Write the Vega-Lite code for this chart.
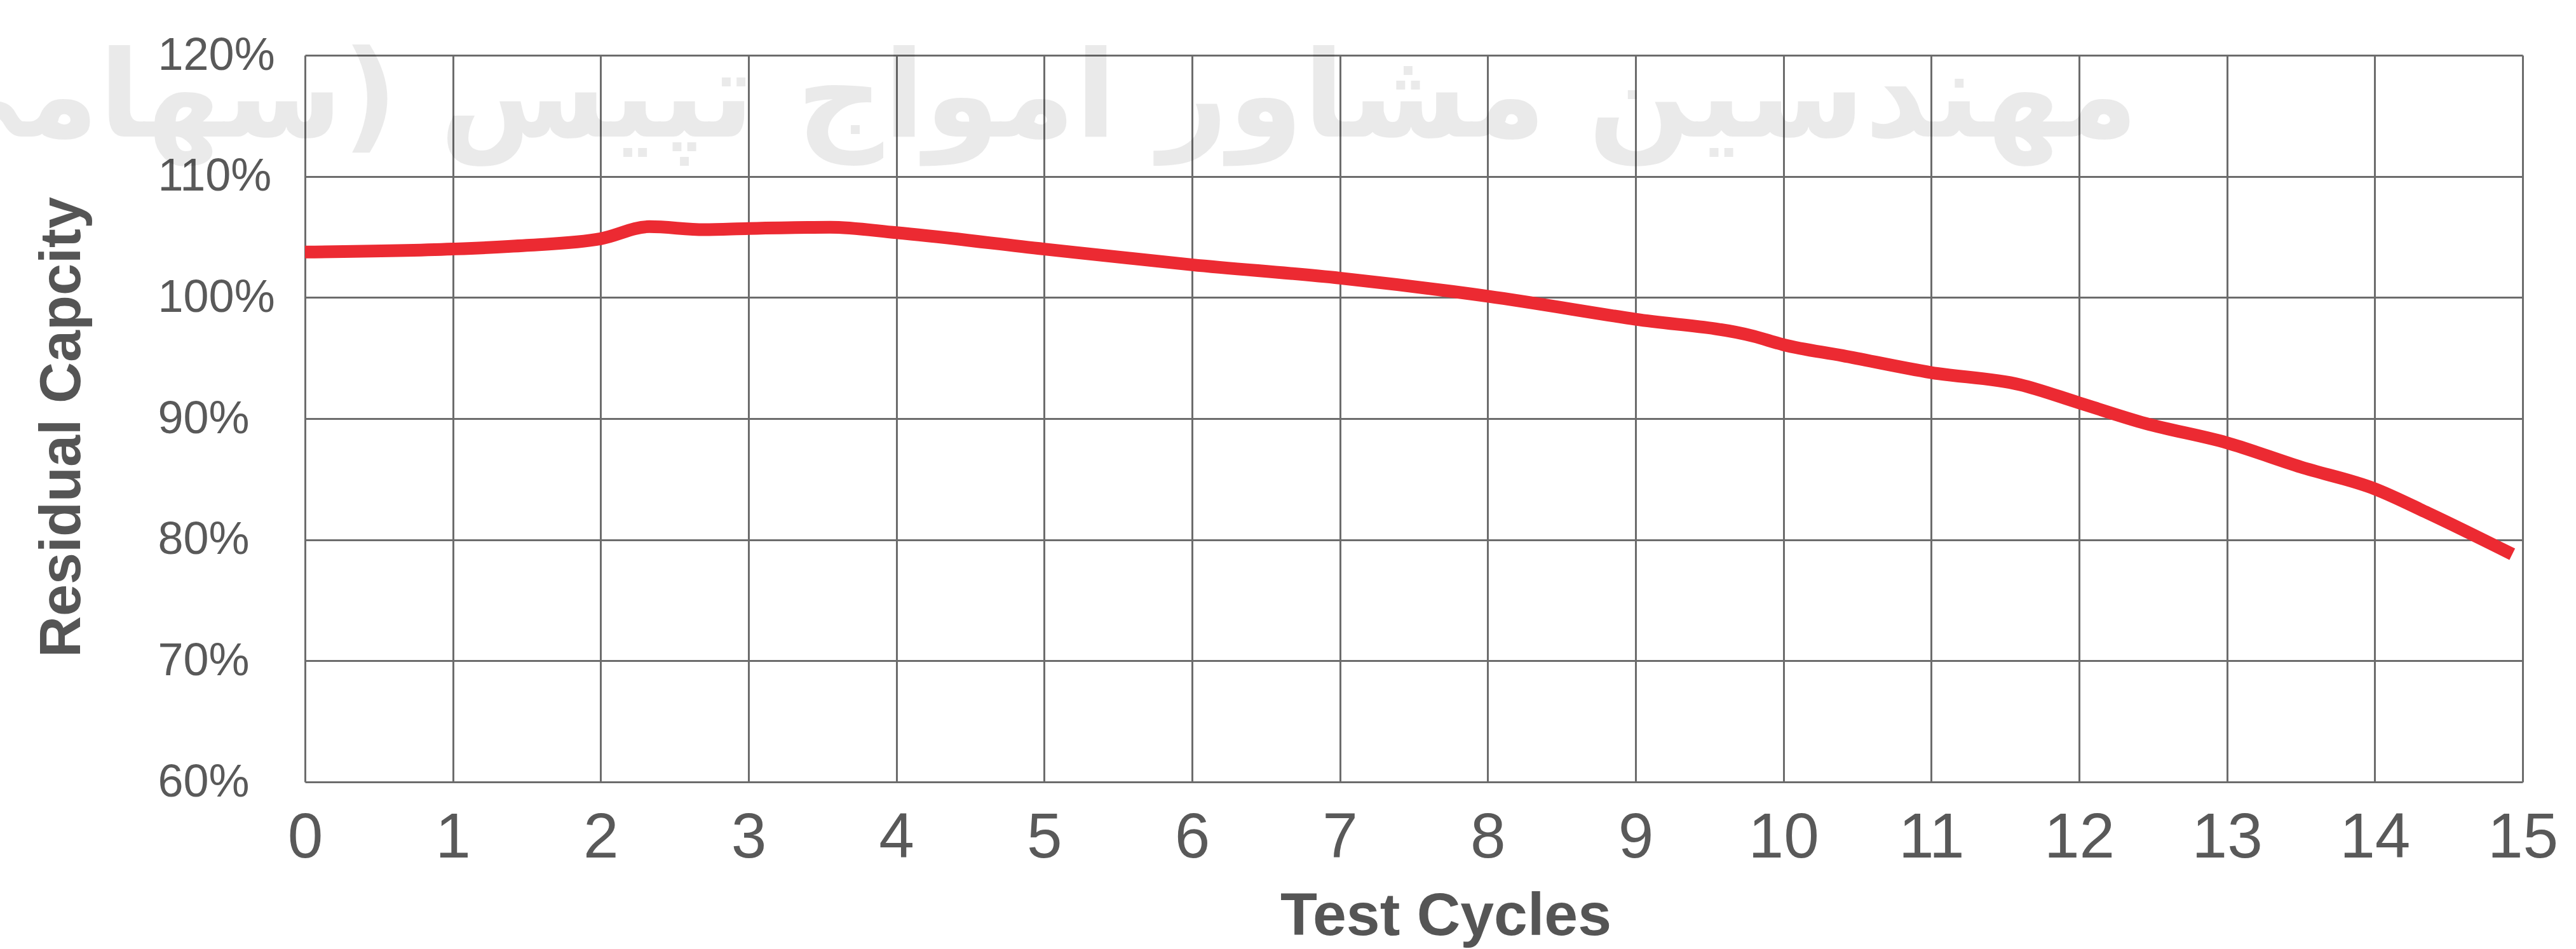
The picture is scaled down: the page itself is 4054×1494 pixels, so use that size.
{
  "$schema": "https://vega.github.io/schema/vega-lite/v6.json",
  "width": 3490,
  "height": 1144,
  "autosize": {"type": "none"},
  "padding": {"left": 480, "top": 87, "right": 84, "bottom": 263},
  "background": "white",
  "config": {"view": {"stroke": null}, "font": "Liberation Sans"},
  "data": {
    "values": [
      {"cycle": 0, "capacity": 103.75},
      {"cycle": 1, "capacity": 104.0},
      {"cycle": 1.5, "capacity": 104.3},
      {"cycle": 2, "capacity": 104.85},
      {"cycle": 2.33, "capacity": 105.85},
      {"cycle": 2.7, "capacity": 105.6},
      {"cycle": 3, "capacity": 105.7},
      {"cycle": 3.55, "capacity": 105.8},
      {"cycle": 4, "capacity": 105.35},
      {"cycle": 5, "capacity": 104.0},
      {"cycle": 6, "capacity": 102.7},
      {"cycle": 7, "capacity": 101.6},
      {"cycle": 8, "capacity": 100.1},
      {"cycle": 9, "capacity": 98.2},
      {"cycle": 9.8, "capacity": 96.8},
      {"cycle": 10, "capacity": 96.1},
      {"cycle": 10.4, "capacity": 95.2},
      {"cycle": 11, "capacity": 93.8},
      {"cycle": 11.6, "capacity": 92.8},
      {"cycle": 12, "capacity": 91.3},
      {"cycle": 12.45, "capacity": 89.6},
      {"cycle": 13, "capacity": 88.0},
      {"cycle": 13.5, "capacity": 86.0},
      {"cycle": 14, "capacity": 84.2},
      {"cycle": 14.36, "capacity": 82.2},
      {"cycle": 14.93, "capacity": 78.8}
    ]
  },
  "layer": [
    {
      "mark": {"type": "line", "color": "#EC2A32", "strokeWidth": 20, "interpolate": "monotone", "strokeCap": "butt"},
      "encoding": {
        "x": {
          "field": "cycle",
          "type": "quantitative",
          "scale": {"domain": [0, 15], "nice": false, "zero": false},
          "axis": {
            "title": "Test Cycles",
            "values": [0,1,2,3,4,5,6,7,8,9,10,11,12,13,14,15],
            "format": "d",
            "grid": true,
            "gridColor": "#6c6c6c",
            "gridWidth": 3,
            "domain": false,
            "ticks": false,
            "tickSize": 0,
            "labelFont": "Liberation Sans",
            "labelFontSize": 100,
            "labelColor": "#595959",
            "labelBaseline": "alphabetic",
            "labelPadding": 118,
            "labelFlush": false,
            "labelOverlap": false,
            "labelLimit": 0,
            "titleFont": "Liberation Sans",
            "titleFontWeight": "bold",
            "titleFontSize": 95,
            "titleColor": "#555555",
            "titleBaseline": "alphabetic",
            "titleAlign": "center",
            "titleX": 1795,
            "titleY": 240
          }
        },
        "y": {
          "field": "capacity",
          "type": "quantitative",
          "scale": {"domain": [60, 120], "nice": false, "zero": false},
          "axis": {
            "title": "Residual Capcity",
            "values": [60,70,80,90,100,110,120],
            "labelExpr": "datum.value + '%'",
            "grid": true,
            "gridColor": "#6c6c6c",
            "gridWidth": 3,
            "domain": false,
            "ticks": false,
            "tickSize": 0,
            "labelFont": "Liberation Sans",
            "labelFontSize": 72,
            "labelColor": "#595959",
            "labelAlign": "left",
            "labelBaseline": "middle",
            "labelPadding": 232,
            "labelFlush": false,
            "labelOverlap": false,
            "labelLimit": 0,
            "titleFont": "Liberation Sans",
            "titleFontWeight": "bold",
            "titleFontSize": 90,
            "titleColor": "#555555",
            "titleAngle": -90,
            "titleBaseline": "alphabetic",
            "titleAlign": "center",
            "titleX": -355,
            "titleY": 585,
            "titleLimit": 0
          }
        }
      }
    },
    {
      "data": {"values": [{"watermark": "مهندسین مشاور امواج تپیس (سهامی خاص)"}]},
      "mark": {"type": "text", "font": "DejaVu Sans", "fontWeight": "bold", "fontSize": 190, "color": "#000000", "opacity": 0.08, "align": "right", "baseline": "middle", "limit": 0},
      "encoding": {
        "x": {"datum": 12.4, "type": "quantitative"},
        "y": {"datum": 116.3, "type": "quantitative"},
        "text": {"field": "watermark"}
      }
    }
  ]
}
